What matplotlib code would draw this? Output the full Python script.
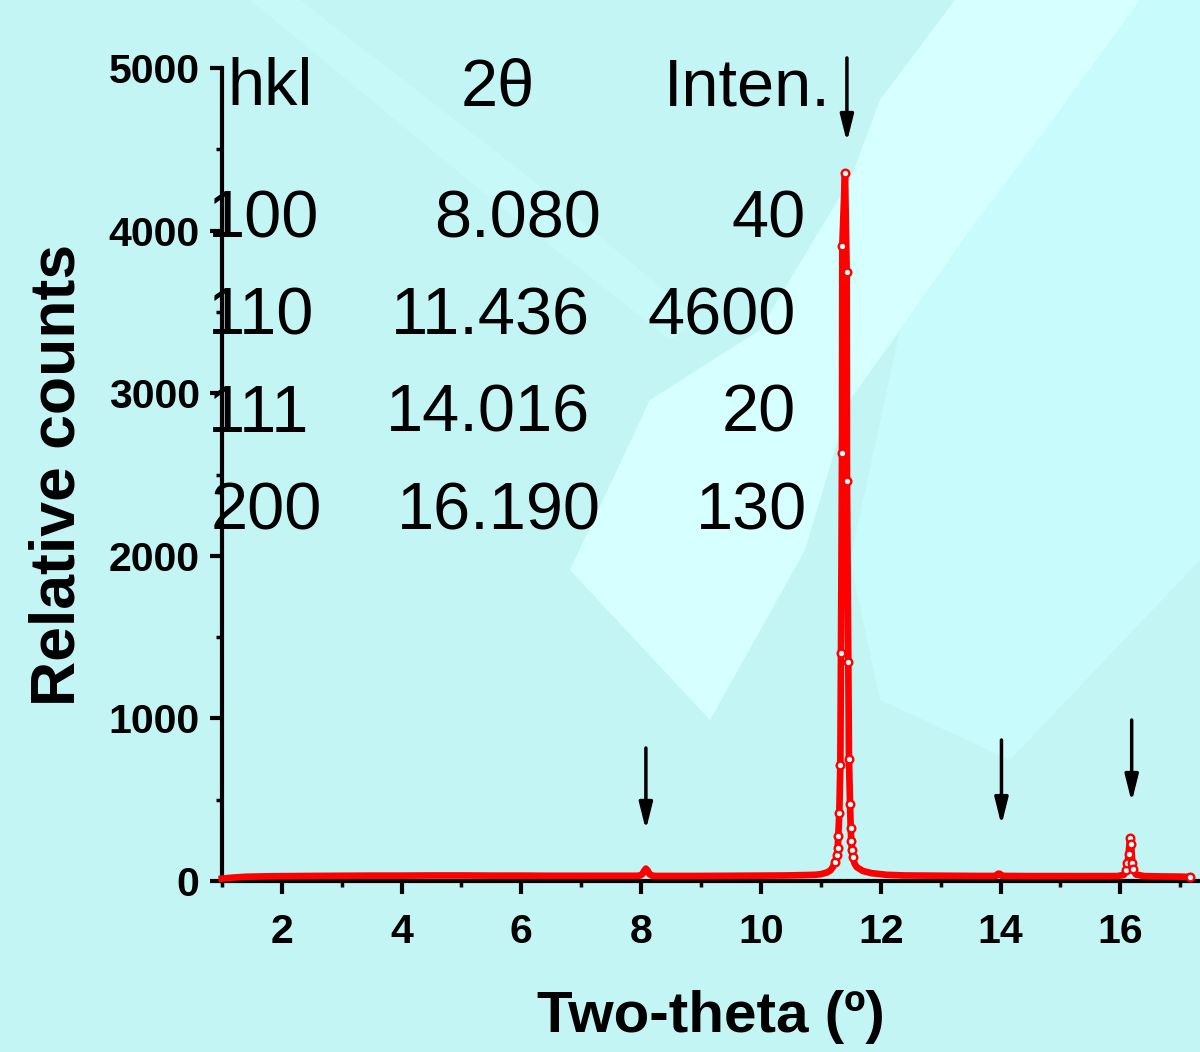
import matplotlib
matplotlib.use("Agg")
import numpy as np
import matplotlib.pyplot as plt
from matplotlib.patches import Polygon
from matplotlib.ticker import MultipleLocator

plt.rcParams['font.family'] = ['Liberation Sans', 'DejaVu Sans']

# Fondo del difractograma (2theta, cuentas)
fondo_x = [1.00, 1.15, 1.40, 1.80, 2.50, 3.00, 3.50, 4.00, 4.50, 5.00, 5.50, 6.00,
           6.50, 7.00, 7.50, 7.90, 8.25, 8.60, 9.00, 9.50, 10.00, 10.40, 10.70,
           12.40, 12.80, 13.20, 13.60, 13.88, 14.10, 14.50, 15.00, 15.50, 15.95,
           16.40, 16.70, 17.00]
fondo_y = [14, 20, 26, 29, 31, 32, 33, 33, 34, 34, 33, 33,
           32, 32, 32, 32, 31, 31, 31, 32, 33, 34, 36,
           34, 33, 32, 31, 31, 31, 30, 30, 30, 30,
           30, 28, 27]

# Picos
pico100_x = [7.98, 8.02, 8.05, 8.08, 8.11, 8.14, 8.18]
pico100_y = [33, 42, 62, 76, 64, 42, 33]

pico110_x = [10.90, 11.00, 11.10, 11.16, 11.20, 11.237, 11.270, 11.282, 11.292,
             11.309, 11.326, 11.337, 11.354, 11.359, 11.404, 11.432, 11.437,
             11.459, 11.470, 11.488, 11.499, 11.509, 11.520, 11.532, 11.56,
             11.60, 11.70, 11.85, 12.10]
pico110_y = [38, 42, 52, 65, 85, 117, 160, 204, 279,
             419, 715, 1400, 2632, 3907, 4357, 3746, 2461,
             1349, 753, 473, 329, 246, 190, 145, 110,
             85, 62, 48, 38]

pico111_x = [13.93, 13.96, 13.99, 14.02]
pico111_y = [32, 45, 44, 32]

pico200_x = [16.06, 16.10, 16.12, 16.14, 16.16, 16.18, 16.20, 16.22, 16.26]
pico200_y = [38, 68, 110, 166, 266, 228, 113, 74, 40]

ultimo_x = [17.16]
ultimo_y = [25]

# Tabla de reflexiones
hkl = ['100', '110', '111', '200']
dos_theta = [8.080, 11.436, 14.016, 16.190]
intensidad = [40, 4600, 20, 130]

# Flechas sobre cada reflexion (cola, punta) en cuentas
flecha_cola = [818, 5062, 867, 990]
flecha_punta = [314, 4545, 344, 486]

W, H = 1200, 1052
fig = plt.figure(figsize=(W / 100, H / 100), dpi=100)
fig.patch.set_facecolor('#c4f5f5')


def px(x, y):
    return (x / W, 1 - y / H)


# zonas mas claras del fondo
zonas = [
    ('#c8fbfb', [(1140, 0), (1200, 0), (1200, 560), (1010, 760), (880, 700),
                 (850, 560), (900, 330), (970, 230), (1060, 110)]),
    ('#c7f9f9', [(250, 0), (300, 0), (520, 170), (700, 320), (670, 340),
                 (480, 190)]),
    ('#d6ffff', [(955, 0), (1140, 0), (1060, 110), (970, 230), (900, 330),
                 (850, 400), (805, 550), (710, 720), (570, 570), (650, 400),
                 (760, 330), (850, 180), (880, 100)]),
]
for color, pts in zonas:
    fig.patches.append(Polygon([px(*p) for p in pts], closed=True,
                               transform=fig.transFigure, facecolor=color,
                               edgecolor='none', zorder=-1))

ax = fig.add_axes([221.8 / W, 1 - 881 / H, (W - 221.8) / W, (881 - 68) / H])
ax.patch.set_visible(False)

# serie completa ordenada
xs = np.array(fondo_x + pico100_x + pico110_x + pico111_x + pico200_x + ultimo_x)
ys = np.array(fondo_y + pico100_y + pico110_y + pico111_y + pico200_y + ultimo_y)
orden = np.argsort(xs)
ax.plot(xs[orden], ys[orden], color='red', lw=4.8, solid_joinstyle='round',
        zorder=3, clip_on=False)

mx = pico110_x[5:24] + pico200_x[1:8] + ultimo_x
my = pico110_y[5:24] + pico200_y[1:8] + ultimo_y
ax.plot(mx, my, ls='none', marker='o', ms=5.5, mfc='white', mec='red', mew=1.7,
        zorder=4, clip_on=False)

ax.set_xlim(1, 1 + (W - 221.8) / 59.9)
ax.set_ylim(0, 5000)
ax.set_xticks(range(2, 17, 2))
ax.xaxis.set_minor_locator(MultipleLocator(1))
ax.set_yticks(range(0, 5001, 1000))
ax.yaxis.set_minor_locator(MultipleLocator(500))

for lado in ['top', 'right']:
    ax.spines[lado].set_visible(False)
for lado in ['left', 'bottom']:
    ax.spines[lado].set_linewidth(3)

ax.tick_params(which='major', direction='out', length=9, width=3,
               labelsize=29.5, pad=7)
ax.tick_params(which='minor', direction='out', length=4.5, width=2.5)
ax.tick_params(axis='x', which='major', pad=14)
for t in ax.get_xticklabels() + ax.get_yticklabels():
    t.set_fontweight('bold')

ax.set_xlabel('Two-theta (º)', fontsize=42, fontweight='bold', labelpad=28)
ax.set_ylabel('Relative counts', fontsize=45, fontweight='bold', labelpad=15)

# flechas
for x, y0, y1 in zip(dos_theta, flecha_cola, flecha_punta):
    ax.annotate('', xy=(x, y1), xytext=(x, y0), annotation_clip=False,
                arrowprops=dict(arrowstyle='-|>,head_length=0.8,head_width=0.2',
                                mutation_scale=20, lw=2.5, color='black',
                                shrinkA=0, shrinkB=0))

# tabla de texto
fs = 48
fig.text(*px(227, 105), 'hkl', fontsize=fs, ha='left', va='baseline')
fig.text(*px(498, 105), '2θ', fontsize=fs, ha='center', va='baseline')
fig.text(*px(664, 105), 'Inten.', fontsize=fs, ha='left', va='baseline')

filas_y = [237, 335, 432, 530]
col1_x = [208, 208, 208, 211]
col2_x = [601, 590, 590, 601]
col3_x = [806, 796, 796, 807]
for i in range(len(hkl)):
    fig.text(*px(col1_x[i], filas_y[i]), hkl[i], fontsize=fs, ha='left', va='baseline')
    fig.text(*px(col2_x[i], filas_y[i]), '%.3f' % dos_theta[i], fontsize=fs,
             ha='right', va='baseline')
    fig.text(*px(col3_x[i], filas_y[i]), str(intensidad[i]), fontsize=fs,
             ha='right', va='baseline')

fig.savefig('out.png', dpi=100, facecolor=fig.get_facecolor())
